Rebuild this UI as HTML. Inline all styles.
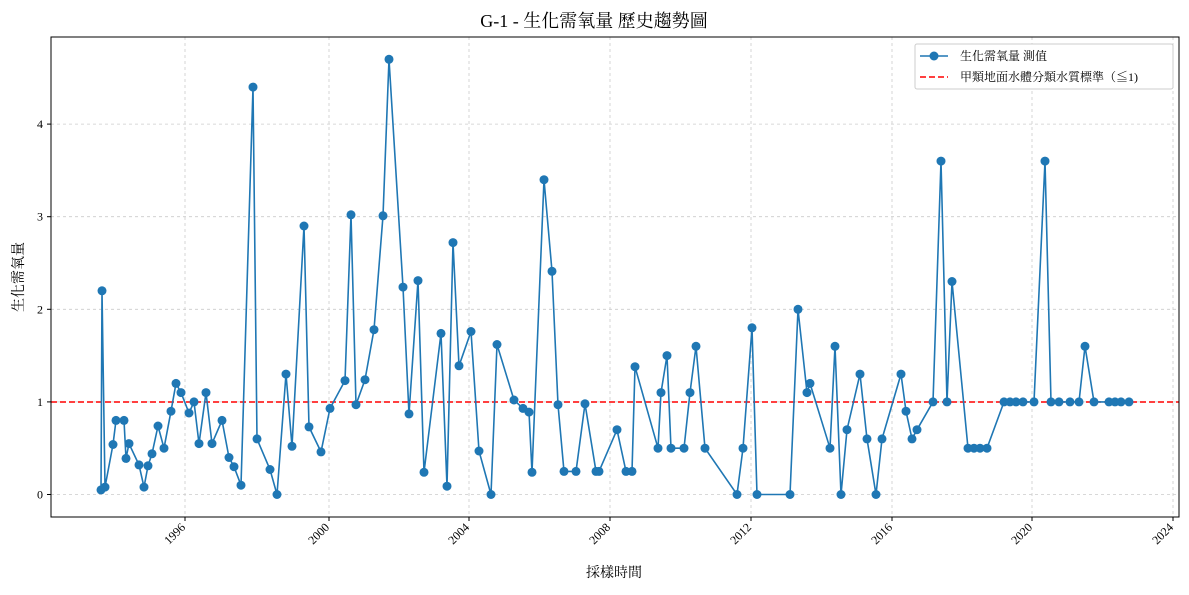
<!DOCTYPE html>
<html><head><meta charset="utf-8"><style>
html,body{margin:0;padding:0;background:#fff;}
svg text{font-family:"Liberation Serif","Noto Serif CJK TC","Noto Serif CJK SC",serif;fill:#000;}
</style></head><body>
<svg id="s" width="1189" height="590" xmlns="http://www.w3.org/2000/svg">
<rect width="1189" height="590" fill="#fff"/>
<g id="grid" stroke="#ccc" stroke-width="0.8" stroke-dasharray="3,3"></g>
<line x1="51" y1="402" x2="1179" y2="402" stroke="#f00" stroke-width="1.6" stroke-dasharray="6,3"/>
<polyline id="ln" fill="none" stroke="#1f77b4" stroke-width="1.6"/>
<g id="pts" fill="#1f77b4"></g>
<rect x="51" y="37" width="1128" height="480" fill="none" stroke="#000" stroke-width="1"/>
<g id="ticks"></g>
<text x="594" y="27" font-size="18" text-anchor="middle">G-1 - 生化需氧量 歷史趨勢圖</text>
<text x="614" y="577" font-size="14" text-anchor="middle">採樣時間</text>
<text transform="translate(23,277) rotate(-90)" font-size="14" text-anchor="middle">生化需氧量</text>
<rect x="915" y="44" width="258" height="45" fill="#fff" stroke="#ccc" rx="2"/>
<line x1="920" y1="56" x2="948" y2="56" stroke="#1f77b4" stroke-width="1.6"/>
<circle cx="934" cy="56" r="4.5" fill="#1f77b4"/>
<text x="960" y="60" font-size="12">生化需氧量 測值</text>
<line x1="920" y1="77" x2="948" y2="77" stroke="#f00" stroke-width="1.6" stroke-dasharray="6,3"/>
<text x="960" y="81" font-size="12">甲類地面水體分類水質標準（≦1)</text>
</svg>
<script>
var d=[[101,0.05],[102,2.2],[105,0.08],[113,0.54],[116,0.8],[124,0.8],[126,0.39],[129,0.55],[139,0.32],[144,0.08],[148,0.31],[152,0.44],[158,0.74],[164,0.5],[171,0.9],[176,1.2],[181,1.1],[189,0.88],[194,1.0],[199,0.55],[206,1.1],[212,0.55],[222,0.8],[229,0.4],[234,0.3],[241,0.1],[253,4.4],[257,0.6],[270,0.27],[277,0.0],[286,1.3],[292,0.52],[304,2.9],[309,0.73],[321,0.46],[330,0.93],[345,1.23],[351,3.02],[356,0.97],[365,1.24],[374,1.78],[383,3.01],[389,4.7],[403,2.24],[409,0.87],[418,2.31],[424,0.24],[441,1.74],[447,0.09],[453,2.72],[459,1.39],[471,1.76],[479,0.47],[491,0.0],[497,1.62],[514,1.02],[523,0.93],[529,0.89],[532,0.24],[544,3.4],[552,2.41],[558,0.97],[564,0.25],[576,0.25],[585,0.98],[596,0.25],[599,0.25],[617,0.7],[626,0.25],[632,0.25],[635,1.38],[658,0.5],[661,1.1],[667,1.5],[671,0.5],[684,0.5],[690,1.1],[696,1.6],[705,0.5],[737,0.0],[743,0.5],[752,1.8],[757,0.0],[790,0.0],[798,2.0],[807,1.1],[810,1.2],[830,0.5],[835,1.6],[841,0.0],[847,0.7],[860,1.3],[867,0.6],[876,0.0],[882,0.6],[901,1.3],[906,0.9],[912,0.6],[917,0.7],[933,1.0],[941,3.6],[947,1.0],[952,2.3],[968,0.5],[974,0.5],[980,0.5],[987,0.5],[1004,1.0],[1010,1.0],[1016,1.0],[1023,1.0],[1034,1.0],[1045,3.6],[1051,1.0],[1059,1.0],[1070,1.0],[1079,1.0],[1085,1.6],[1094,1.0],[1109,1.0],[1115,1.0],[1121,1.0],[1129,1.0]];
var NS="http://www.w3.org/2000/svg";
function Y(v){return 494.5-92.6*v;}
function el(t,a,p){var e=document.createElementNS(NS,t);for(var k in a)e.setAttribute(k,a[k]);p.appendChild(e);return e;}
var pts=d.map(function(p){return p[0]+","+Y(p[1]).toFixed(1);}).join(" ");
document.getElementById("ln").setAttribute("points",pts);
var g=document.getElementById("pts");
d.forEach(function(p){el("circle",{cx:p[0],cy:Y(p[1]).toFixed(1),r:4.5},g);});
var gr=document.getElementById("grid"),tk=document.getElementById("ticks");
var xs=[[185,1996],[329,2000],[469,2004],[610,2008],[751,2012],[892,2016],[1032,2020],[1173,2024]];
xs.forEach(function(x){el("line",{x1:x[0],y1:37,x2:x[0],y2:517},gr);
el("line",{x1:x[0],y1:517,x2:x[0],y2:521,stroke:"#000"},tk);
var t=el("text",{"font-size":12,"text-anchor":"end",transform:"translate("+(x[0]+1)+",528) rotate(-45)"},tk);t.textContent=x[1];});
for(var v=0;v<=4;v++){var y=Y(v);el("line",{x1:51,y1:y,x2:1179,y2:y},gr);
el("line",{x1:47,y1:y,x2:51,y2:y,stroke:"#000"},tk);
var t=el("text",{x:43,y:y+4,"font-size":12,"text-anchor":"end"},tk);t.textContent=v;}
</script>
</body></html>
